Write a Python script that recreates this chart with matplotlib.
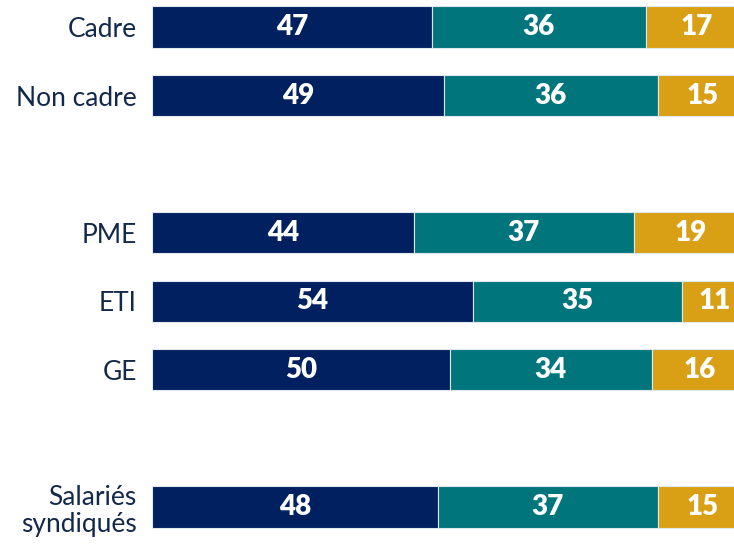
import matplotlib.pyplot as plt
import numpy as np

# categories and shares (%)
categories = ["Cadre", "Non cadre", "PME", "ETI", "GE", "Salariés\nsyndiqués"]
positions = [0, 1, 3, 4, 5, 7]
part1 = [47, 49, 44, 54, 50, 48]
part2 = [36, 36, 37, 35, 34, 37]
part3 = [17, 15, 19, 11, 16, 15]

colors = ["#002060", "#00767C", "#DAA015"]
label_color = "#13294B"

plt.rcParams['font.family'] = ['Lato', 'DejaVu Sans']

fig = plt.figure(figsize=(7.34, 5.45), dpi=100)
# axes runs a bit past the right edge, like the cropped original
ax = fig.add_axes([152 / 734, 0, 595 / 734, 1])

left = np.zeros(len(categories))
for vals, col in zip([part1, part2, part3], colors):
    vals = np.array(vals)
    ax.barh(positions, vals, left=left, height=0.6, color=col,
            edgecolor="#dfe6ee", linewidth=0.8)
    for y, l, v in zip(positions, left, vals):
        ax.text(l + v / 2, y, str(v), ha="center", va="center",
                color="white", fontsize=20, fontweight="heavy")
    left += vals

ax.set_xlim(0, 100)
ax.set_ylim(7 + 38 / 68.6, -27 / 68.6)
ax.set_yticks(positions)
ax.set_yticklabels(categories, fontsize=19, color=label_color, ha="right",
                   linespacing=1.1)
ax.tick_params(axis="y", length=0, pad=11)
ax.set_xticks([])
for s in ax.spines.values():
    s.set_visible(False)

fig.savefig("out.png", dpi=100)
